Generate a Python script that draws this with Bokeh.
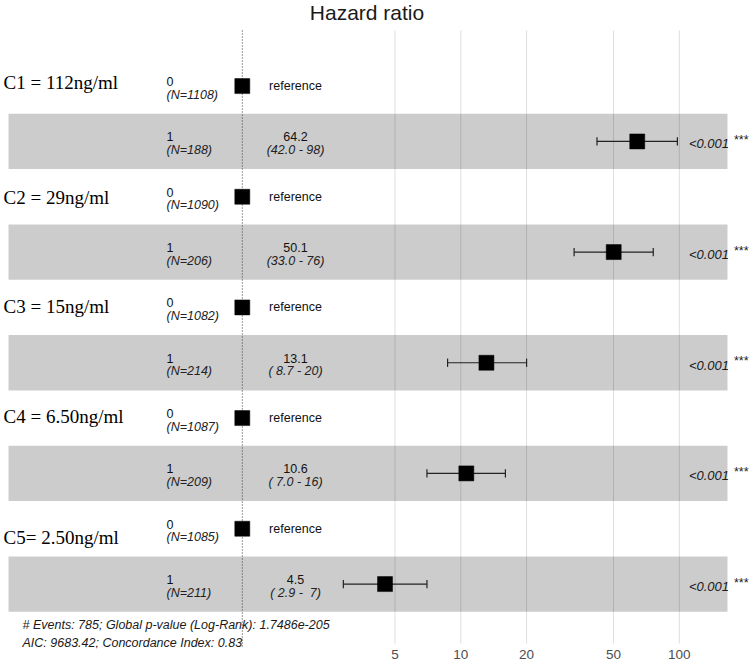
from bokeh.plotting import figure
from bokeh.models import Range1d, FixedTicker, NumeralTickFormatter, ColumnDataSource
from bokeh.core.properties import value
from bokeh.embed import file_html
from bokeh.resources import INLINE

# ---------------- data ----------------
title_text = "Hazard ratio"
group_labels = ["C1 = 112ng/ml", "C2 = 29ng/ml", "C3 = 15ng/ml",
                "C4 = 6.50ng/ml", "C5= 2.50ng/ml"]
levels = ["0", "1"]
n_reference = [1108, 1090, 1082, 1087, 1085]
n_exposed = [188, 206, 214, 209, 211]
reference_hr = 1.0
hazard_ratio = [64.2, 50.1, 13.1, 10.6, 4.5]
ci_lower = [42.0, 33.0, 8.7, 7.0, 2.9]
ci_upper = [98, 76, 20, 16, 7]
p_values = ["<0.001", "<0.001", "<0.001", "<0.001", "<0.001"]
stars = ["***", "***", "***", "***", "***"]
hr_ticks = [5, 10, 20, 50, 100]
footer_lines = ["# Events: 785; Global p-value (Log-Rank): 1.7486e-205",
                "AIC: 9683.42; Concordance Index: 0.83"]

# ---------------- layout (page pixels) ----------------
W, H = 750, 663
FRAME_BOTTOM = 648
PX_PER_DECADE = 218.5
PX_AT_10 = 460.3
ROW0_PX = 85.6
ROW_PX = 55.33

SANS = value("Liberation Sans")
SERIF = value("Liberation Serif")


def x_at(px):
    return 10 ** (1 + (px - PX_AT_10) / PX_PER_DECADE)


def y_at(px):
    return (px - ROW0_PX) / ROW_PX


def dy(px):
    return px / ROW_PX


p = figure(width=W, height=H, x_axis_type="log",
           x_range=Range1d(x_at(0), x_at(W)),
           y_range=Range1d(y_at(FRAME_BOTTOM), y_at(0)),
           y_axis_location=None, output_backend="svg", toolbar_location=None,
           min_border_left=0, min_border_right=0, min_border_top=0,
           min_border_bottom=H - FRAME_BOTTOM)
p.outline_line_color = None
p.xgrid.visible = False
p.ygrid.visible = False
p.background_fill_color = "white"
p.border_fill_color = "white"

ax = p.xaxis[0]
ax.ticker = FixedTicker(ticks=hr_ticks, minor_ticks=[])
ax.formatter = NumeralTickFormatter(format="0")
ax.axis_line_color = None
ax.major_tick_line_color = None
ax.minor_tick_line_color = None
ax.major_tick_in = 0
ax.major_tick_out = 0
ax.major_label_standoff = 1
ax.major_label_text_font = "Liberation Sans"
ax.major_label_text_font_size = "13.5px"
ax.major_label_text_color = "#4d4d4d"

# vertical grid lines at the hazard-ratio ticks
p.segment(x0=hr_ticks, x1=hr_ticks, y0=[y_at(30)] * len(hr_ticks),
          y1=[y_at(643)] * len(hr_ticks), line_color="#dedede", line_width=1)

# row structure: each group has a reference row and an exposed row
n_groups = len(group_labels)
ref_rows = [2 * i for i in range(n_groups)]
exp_rows = [2 * i + 1 for i in range(n_groups)]

# shaded bands behind the exposed rows
p.quad(left=[x_at(8)] * n_groups, right=[x_at(727)] * n_groups,
       top=[r - 0.5 for r in exp_rows], bottom=[r + 0.5 for r in exp_rows],
       fill_color="black", fill_alpha=0.2, line_color=None)

# dotted line at HR = 1
p.segment(x0=[reference_hr], x1=[reference_hr], y0=[y_at(30)], y1=[y_at(FRAME_BOTTOM)],
          line_color="#333333", line_width=1, line_dash="1 2")

# title
p.text(x=[x_at(366.5)], y=[y_at(12)], text=[title_text], text_font=SANS,
       text_font_size="21px", text_align="center", text_baseline="middle",
       text_color="#1a1a1a")

# group labels
label_shift = [-4, 1, -1, -2, 9]
p.text(x=[x_at(3)] * n_groups, y=[r + dy(s) for r, s in zip(ref_rows, label_shift)],
       text=group_labels, text_font=SERIF, text_font_size="19px",
       text_align="left", text_baseline="middle", text_color="black")

# level and N column
all_rows = ref_rows + exp_rows
level_txt = [levels[0]] * n_groups + [levels[1]] * n_groups
n_txt = [f"(N={n})" for n in n_reference] + [f"(N={n})" for n in n_exposed]
p.text(x=[x_at(166)] * len(all_rows), y=[r - dy(4.5) for r in all_rows],
       text=level_txt, text_font=SANS, text_font_size="12.5px",
       text_align="left", text_baseline="middle", text_color="#111111")
p.text(x=[x_at(166)] * len(all_rows), y=[r + dy(8.5) for r in all_rows],
       text=n_txt, text_font=SANS, text_font_size="12.5px", text_font_style="italic",
       text_align="left", text_baseline="middle", text_color="#222222")

# estimate column
p.text(x=[x_at(295)] * n_groups, y=ref_rows, text=["reference"] * n_groups,
       text_font=SANS, text_font_size="12.5px", text_align="center",
       text_baseline="middle", text_color="#111111")
est_txt = [f"{h:.1f}" for h in hazard_ratio]


def pad(s, w):
    return "\u00a0" * (w - len(s)) + s


ci_txt = [f"({pad(f'{lo:.1f}', 4)} - {pad(f'{hi:.0f}', 2)})"
          for lo, hi in zip(ci_lower, ci_upper)]
p.text(x=[x_at(295)] * n_groups, y=[r - dy(4.5) for r in exp_rows], text=est_txt,
       text_font=SANS, text_font_size="12.5px", text_align="center",
       text_baseline="middle", text_color="#111111")
p.text(x=[x_at(295)] * n_groups, y=[r + dy(8.5) for r in exp_rows], text=ci_txt,
       text_font=SANS, text_font_size="12.5px", text_font_style="italic",
       text_align="center", text_baseline="middle", text_color="#222222")

# confidence intervals with caps
cap = 0.075
p.segment(x0=ci_lower, x1=ci_upper, y0=exp_rows, y1=exp_rows,
          line_color="#222222", line_width=1.2)
p.segment(x0=ci_lower, x1=ci_lower, y0=[r - cap for r in exp_rows],
          y1=[r + cap for r in exp_rows], line_color="#222222", line_width=1.2)
p.segment(x0=ci_upper, x1=ci_upper, y0=[r - cap for r in exp_rows],
          y1=[r + cap for r in exp_rows], line_color="#222222", line_width=1.2)

# point estimates (reference levels sit at HR = 1)
points = ColumnDataSource(dict(
    x=[reference_hr] * n_groups + hazard_ratio,
    y=ref_rows + exp_rows))
p.scatter(x="x", y="y", source=points, marker="square", size=15,
          fill_color="black", line_color="black", line_width=0.5)

# p-values and significance stars
p.text(x=[x_at(728.5)] * n_groups, y=[r + dy(2.5) for r in exp_rows], text=p_values,
       text_font=SANS, text_font_size="13px", text_font_style="italic",
       text_align="right", text_baseline="middle", text_color="#1a1a1a")
p.text(x=[x_at(733.5)] * n_groups, y=[r - dy(1.5) for r in exp_rows], text=stars,
       text_font=SANS, text_font_size="12.5px",
       text_align="left", text_baseline="middle", text_color="#1a1a1a")

# model summary lines
p.text(x=[x_at(22)] * len(footer_lines), y=[y_at(624), y_at(642)], text=footer_lines,
       text_font=SANS, text_font_size="12.5px", text_font_style="italic",
       text_align="left", text_baseline="middle", text_color="#1a1a1a")

open("out.html", "w").write(file_html(p, INLINE))
